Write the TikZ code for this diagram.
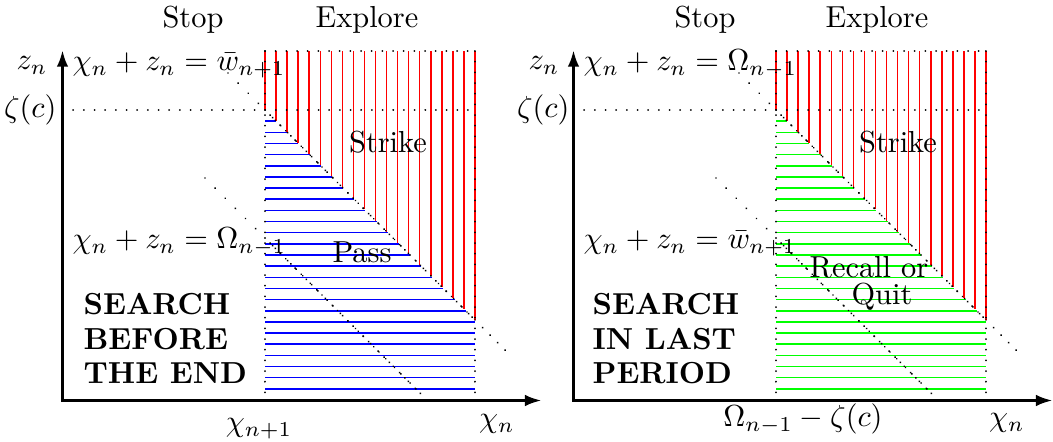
\documentclass[tikz,border=0pt]{standalone}
\usetikzlibrary{arrows.meta}
\begin{document}
\begin{tikzpicture}[x=0.329pt,y=-0.329pt,
  lab/.style={inner sep=0pt},
  axis/.style={line width=1pt,{Latex[length=5.5pt,width=3.8pt]}-{Latex[length=5.5pt,width=3.8pt]}},
  bnd/.style={line width=0.65pt,line cap=round,dash pattern=on 0.01pt off 3.5pt},
  loose/.style={line width=0.65pt,line cap=round,dash pattern=on 0.01pt off 4.7pt},
  dense/.style={line width=0.65pt,line cap=round,dash pattern=on 0.01pt off 2.4pt},
  hatch/.style={line width=0.5pt}]
\useasboundingbox (0,0) rectangle (1053,442);

\foreach \o/\c/\p in {0/blue/L,511/green/R}{
  % vertical red hatching (Strike / Explore region)
  \foreach \k in {0,...,19}{
    \pgfmathsetmacro\xx{265+\k*210/19}
    \pgfmathsetmacro\yy{max(110,\xx-155)}
    \draw[hatch,red] (\xx+\o,51) -- (\xx+\o,\yy);
  }
  % horizontal hatching
  \foreach \k in {1,...,25}{
    \pgfmathsetmacro\yy{110+\k*290/26}
    \pgfmathsetmacro\xx{min(475,\yy+155)}
    \draw[hatch,\c] (265+\o,\yy) -- (\xx+\o,\yy);
  }
  % dotted boundaries
  \draw[bnd] (62.5+\o,110) -- (475+\o,110);
  \draw[bnd] (265+\o,51) -- (475+\o,51);
  \draw[bnd] (265+\o,51) -- (265+\o,400);
  \draw[bnd] (475+\o,51) -- (475+\o,400);
  % diagonals
  \draw[loose] (228+\o,73) -- (265+\o,110);
  \draw[dense] (265+\o,110) -- (475+\o,320);
  \draw[bnd] (265+\o,110) -- (475+\o,320);
  \draw[bnd] (475+\o,320) -- (510+\o,355);
  \draw[loose] (205+\o,178) -- (265+\o,238);
  \draw[dense] (265+\o,238) -- (423+\o,396);
  \draw[bnd] (265+\o,238) -- (423+\o,396);
  % axes
  \coordinate (O\p) at (62.5+\o,400.5);
  \coordinate (Y\p) at (62.5+\o,50);
  \coordinate (X\p) at (541.7+\o,400.5);
  \draw[axis] (Y\p) -- (O\p) -- (X\p);
}

% left panel labels
\node[lab,anchor=base] (stopL) at (193,28) {Stop};
\node[lab,anchor=base] (expL) at (367,28) {Explore};
\node[lab,anchor=base east] (znL) at (48,70) {$z_n$};
\node[lab,anchor=base west] (eqaL) at (72,71) {$\chi_n+z_n=\bar{w}_{n+1}$};
\node[lab,anchor=east] (zetaL) at (57,110) {$\zeta(c)$};
\node[lab,anchor=base west] (eqbL) at (72,249) {$\chi_n+z_n=\Omega_{n-1}$};
\node[lab,anchor=base] (strL) at (388,153) {Strike};
\node[lab,anchor=base] (passL) at (362,263) {Pass};
\node[lab,anchor=north west,align=left,font=\bfseries\fontsize{10}{11.3}\selectfont] (srchL) at (83,293) {SEARCH\\BEFORE\\THE END};
\node[lab,anchor=base] (xn1L) at (259,432) {$\chi_{n+1}$};
\node[lab,anchor=base] (xnL) at (497,427.5) {$\chi_n$};

% right panel labels
\node[lab,anchor=base] (stopR) at (705,28) {Stop};
\node[lab,anchor=base] (expR) at (877,28) {Explore};
\node[lab,anchor=base east] (znR) at (560,70) {$z_n$};
\node[lab,anchor=base west] (eqaR) at (583,71) {$\chi_n+z_n=\Omega_{n-1}$};
\node[lab,anchor=east] (zetaR) at (570,110) {$\zeta(c)$};
\node[lab,anchor=base west] (eqbR) at (583,249) {$\chi_n+z_n=\bar{w}_{n+1}$};
\node[lab,anchor=base] (strR) at (898,153) {Strike};
\node[lab,anchor=north,align=center,font=\fontsize{10}{8.8}\selectfont] (recR) at (869,256) {Recall or\\\hspace*{8.5pt}Quit};
\node[lab,anchor=north west,align=left,font=\bfseries\fontsize{10}{11.3}\selectfont] (srchR) at (592,293) {SEARCH\\IN LAST\\PERIOD};
\node[lab,anchor=base] (omzR) at (803,427) {$\Omega_{n-1}-\zeta(c)$};
\node[lab,anchor=base] (xnR) at (1007,427) {$\chi_n$};
\end{tikzpicture}
\end{document}
